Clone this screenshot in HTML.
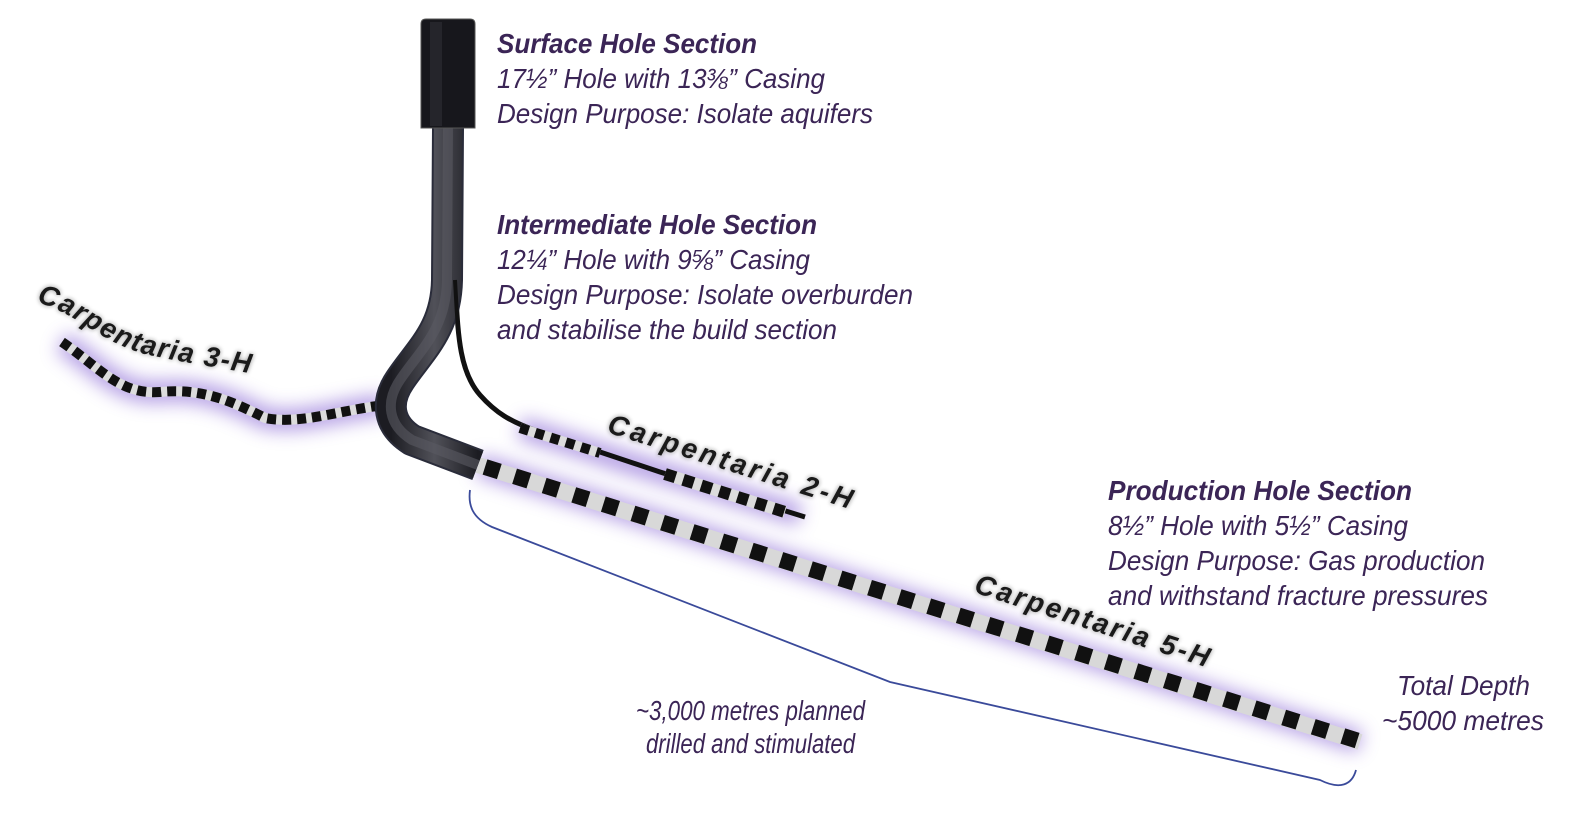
<!DOCTYPE html>
<html><head><meta charset="utf-8"><style>
html,body{margin:0;padding:0;background:#fff;}
svg{display:block;}
.t{font-family:"Liberation Sans",sans-serif;font-style:italic;fill:#3b2556;font-size:28px;}
.h{font-weight:bold;}
.c{font-family:"Liberation Sans",sans-serif;font-style:italic;font-weight:bold;fill:#1a1a1a;font-size:28px;}
</style></head><body>
<svg width="1576" height="823" viewBox="0 0 1576 823" xmlns="http://www.w3.org/2000/svg">
<defs>
<filter id="glow" x="-20%" y="-50%" width="140%" height="200%"><feGaussianBlur stdDeviation="9"/></filter>
<filter id="sh" x="-10%" y="-30%" width="120%" height="160%"><feGaussianBlur stdDeviation="2.5"/></filter>
<linearGradient id="pg" x1="0" x2="1" y1="0" y2="0"><stop offset="0" stop-color="#1a1a1f"/><stop offset="0.5" stop-color="#55555c"/><stop offset="1" stop-color="#1a1a1f"/></linearGradient>
<path id="p3" d="M36,302 C75,312 100,342 145,354 C180,362 215,367 255,374"/>
<path id="p2" d="M606,432 L862,513"/>
<path id="p5" d="M973,592 L1215,670"/>
</defs>
<g filter="url(#glow)" stroke="#9b7fdc" stroke-width="22" fill="none" opacity="0.75">
<path d="M62,342 C100,368 120,395 160,392 C200,388 230,400 265,418 C300,425 340,410 385,405"/>
<path d="M478,465 L1360,742"/>
<path d="M520,428 C560,440 590,450 620,460 L800,515"/>
</g>
<path d="M62,342 C100,368 120,395 160,392 C200,388 230,400 265,418 C300,425 340,410 385,405" stroke="#dcdcdc" stroke-width="10" fill="none"/>
<path d="M62,342 C100,368 120,395 160,392 C200,388 230,400 265,418 C300,425 340,410 385,405" stroke="#111" stroke-width="10" fill="none" stroke-dasharray="9 6"/>
<path d="M455,280 C458,330 458,370 480,395 C495,412 510,422 540,432 L660,472 L805,517" stroke="#111" stroke-width="5" fill="none"/>
<path d="M520,428 L600,453" stroke="#dcdcdc" stroke-width="10"/>
<path d="M520,428 L600,453" stroke="#111" stroke-width="10" stroke-dasharray="9 7"/>
<path d="M665,474 L785,512" stroke="#dcdcdc" stroke-width="12"/>
<path d="M665,474 L785,512" stroke="#111" stroke-width="12" stroke-dasharray="11 8"/>
<path d="M478,465 L1360,742" stroke="#d8d8d8" stroke-width="16"/>
<path d="M485,467 L1362,742" stroke="#111" stroke-width="16" stroke-dasharray="15 16"/>
<path d="M448,128 L447,280 C446,330 420,350 400,380 C385,402 388,425 412,440 L478,465" stroke="#2a2c3a" stroke-width="32" fill="none" stroke-linejoin="round"/>
<path d="M448,128 L447,280 C446,330 420,350 400,380 C385,402 388,425 412,440 L478,465" stroke="url(#pg)" stroke-width="28" fill="none" opacity="0.9"/>
<path d="M448,128 L447,280 C446,330 420,350 400,380 C385,402 388,425 412,440 L478,465" stroke="#5a5a62" stroke-width="10" fill="none" opacity="0.6"/>
<path d="M455,280 C458,330 458,370 480,395" stroke="#111" stroke-width="4" fill="none"/>
<path d="M421,128 L421,24 Q421,19 426,19 L470,19 Q475,19 475,24 L475,128 Z" fill="#17171c" stroke="#555" stroke-width="1"/>
<rect x="430" y="22" width="12" height="104" fill="#2e2e36" opacity="0.6"/>
<path d="M470,490 C468,505 472,518 492,527 L890,682 L1320,780 C1340,790 1352,785 1356,770" stroke="#3a4a9a" stroke-width="1.8" fill="none"/>
<g filter="url(#sh)" opacity="0.5">
<text class="c" textLength="228"><textPath href="#p3" textLength="228" lengthAdjust="spacing">Carpentaria 3-H</textPath></text>
<text class="c"><textPath href="#p2" textLength="255" lengthAdjust="spacing">Carpentaria 2-H</textPath></text>
<text class="c"><textPath href="#p5" textLength="245" lengthAdjust="spacing">Carpentaria 5-H</textPath></text></g>
<text class="c"><textPath href="#p3" textLength="228" lengthAdjust="spacing">Carpentaria 3-H</textPath></text>
<text class="c"><textPath href="#p2" textLength="255" lengthAdjust="spacing">Carpentaria 2-H</textPath></text>
<text class="c"><textPath href="#p5" textLength="245" lengthAdjust="spacing">Carpentaria 5-H</textPath></text>
<text class="t h" x="497" y="53" textLength="260" lengthAdjust="spacingAndGlyphs">Surface Hole Section</text>
<text class="t" x="497" y="88" textLength="328" lengthAdjust="spacingAndGlyphs">17½” Hole with 13⅜” Casing</text>
<text class="t" x="497" y="123" textLength="376" lengthAdjust="spacingAndGlyphs">Design Purpose: Isolate aquifers</text>
<text class="t h" x="497" y="234" textLength="320" lengthAdjust="spacingAndGlyphs">Intermediate Hole Section</text>
<text class="t" x="497" y="269" textLength="313" lengthAdjust="spacingAndGlyphs">12¼” Hole with 9⅝” Casing</text>
<text class="t" x="497" y="304" textLength="416" lengthAdjust="spacingAndGlyphs">Design Purpose: Isolate overburden</text>
<text class="t" x="497" y="339" textLength="340" lengthAdjust="spacingAndGlyphs">and stabilise the build section</text>
<text class="t h" x="1108" y="500" textLength="304" lengthAdjust="spacingAndGlyphs">Production Hole Section</text>
<text class="t" x="1108" y="535" textLength="300" lengthAdjust="spacingAndGlyphs">8½” Hole with 5½” Casing</text>
<text class="t" x="1108" y="570" textLength="377" lengthAdjust="spacingAndGlyphs">Design Purpose: Gas production</text>
<text class="t" x="1108" y="605" textLength="380" lengthAdjust="spacingAndGlyphs">and withstand fracture pressures</text>
<text class="t" x="1397" y="695" font-size="27" textLength="133" lengthAdjust="spacingAndGlyphs">Total Depth</text>
<text class="t" x="1382" y="730" font-size="27" textLength="162" lengthAdjust="spacingAndGlyphs">~5000 metres</text>
<text class="t" x="636" y="720" font-size="23" textLength="229" lengthAdjust="spacingAndGlyphs">~3,000 metres planned</text>
<text class="t" x="646" y="753" font-size="23" textLength="209" lengthAdjust="spacingAndGlyphs">drilled and stimulated</text>
</svg>
</body></html>
